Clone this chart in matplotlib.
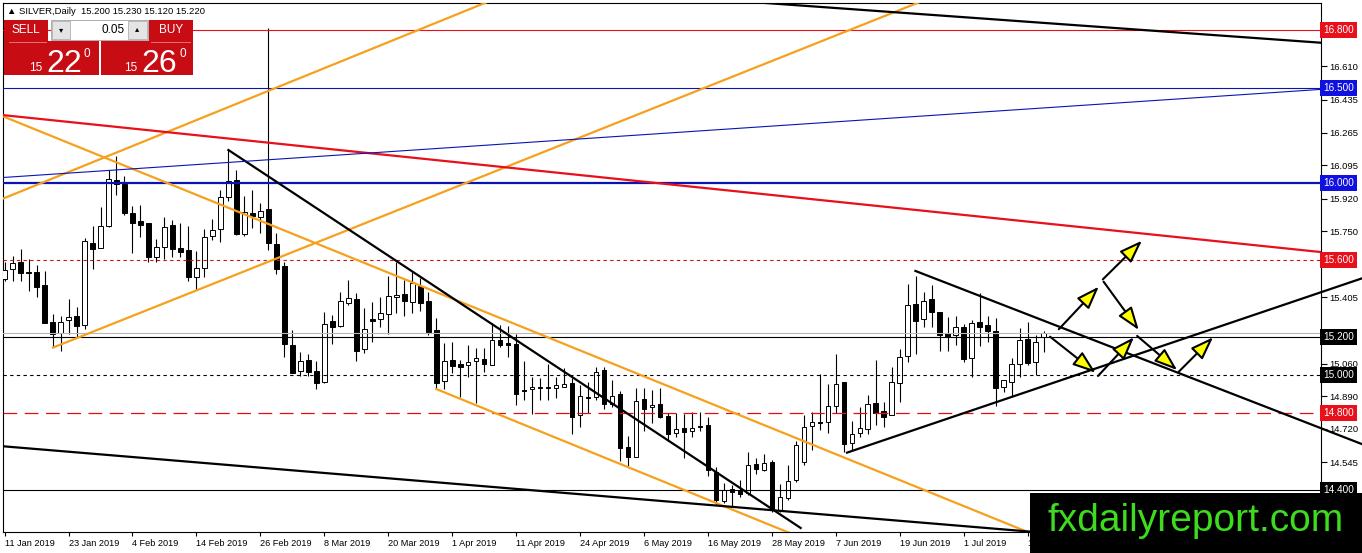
import numpy as np
import matplotlib.pyplot as plt
from matplotlib.patches import Rectangle, FancyArrowPatch
from matplotlib.transforms import blended_transform_factory

# SILVER daily candles, 11 Jan 2019 .. 15 Jul 2019
opens = [15.501, 15.552, 15.589, 15.540, 15.536, 15.470, 15.275, 15.221, 15.286, 15.308,
         15.259, 15.687, 15.661, 15.779, 16.017, 15.997, 15.844, 15.804, 15.793, 15.614,
         15.669, 15.781, 15.663, 15.652, 15.510, 15.557, 15.725, 15.760, 15.930, 16.017,
         15.734, 15.844, 15.823, 15.865, 15.684, 15.569, 15.155, 15.019, 15.078, 15.021,
         14.962, 15.282, 15.256, 15.377, 15.397, 15.134, 15.290, 15.291, 15.317, 15.405,
         15.423, 15.383, 15.464, 15.386, 15.235, 14.969, 15.078, 15.058, 15.051, 15.072,
         15.084, 15.051, 15.183, 15.165, 15.160, 14.922, 14.926, 14.939, 14.936, 14.932,
         14.939, 14.960, 14.791, 14.884, 14.884, 15.026, 14.847, 14.899, 14.623, 14.574,
         14.873, 14.832, 14.849, 14.786, 14.699, 14.722, 14.706, 14.734, 14.738, 14.496,
         14.344, 14.407, 14.397, 14.383, 14.536, 14.505, 14.545, 14.296, 14.357, 14.452,
         14.546, 14.734, 14.754, 14.757, 14.840, 14.962, 14.644, 14.696, 14.717, 14.853,
         14.812, 14.790, 14.957, 15.101, 15.371, 15.291, 15.395, 15.330, 15.218, 15.209,
         15.249, 15.090, 15.275, 15.259, 15.230, 14.939, 14.965, 15.056, 15.188, 15.066,
         15.200]
highs = [15.590, 15.621, 15.657, 15.604, 15.574, 15.543, 15.318, 15.308, 15.397, 15.355,
         15.713, 15.777, 15.877, 16.068, 16.144, 16.038, 15.883, 15.887, 15.793, 15.711,
         15.823, 15.809, 15.791, 15.776, 15.647, 15.763, 15.812, 15.964, 16.174, 16.070,
         15.934, 15.965, 15.896, 16.810, 15.739, 15.591, 15.235, 15.122, 15.110, 15.075,
         15.330, 15.313, 15.435, 15.496, 15.426, 15.348, 15.383, 15.406, 15.517, 15.591,
         15.496, 15.539, 15.505, 15.435, 15.296, 15.166, 15.174, 15.078, 15.157, 15.139,
         15.139, 15.270, 15.261, 15.256, 15.212, 15.075, 14.991, 14.983, 15.057, 14.991,
         15.035, 14.983, 14.948, 14.965, 15.040, 15.040, 14.974, 14.918, 14.682, 14.931,
         14.931, 14.922, 14.931, 14.800, 14.800, 14.796, 14.809, 14.809, 14.779, 14.519,
         14.435, 14.426, 14.452, 14.600, 14.566, 14.586, 14.557, 14.431, 14.531, 14.656,
         14.791, 14.809, 15.005, 14.953, 15.110, 14.962, 14.760, 14.835, 14.895, 15.078,
         14.861, 15.043, 15.136, 15.475, 15.517, 15.432, 15.470, 15.330, 15.301, 15.308,
         15.266, 15.287, 15.426, 15.308, 15.296, 14.970, 15.090, 15.244, 15.278, 15.209,
         15.230]
lows = [15.491, 15.492, 15.491, 15.440, 15.408, 15.270, 15.145, 15.127, 15.214, 15.200,
        15.242, 15.553, 15.661, 15.774, 15.939, 15.835, 15.638, 15.722, 15.591, 15.588,
        15.607, 15.617, 15.617, 15.492, 15.444, 15.510, 15.704, 15.693, 15.909, 15.731,
        15.727, 15.765, 15.742, 15.652, 15.526, 15.092, 15.009, 14.995, 14.995, 14.926,
        14.957, 15.160, 15.249, 15.365, 15.075, 15.113, 15.174, 15.249, 15.214, 15.322,
        15.308, 15.325, 15.336, 15.209, 14.931, 14.927, 15.009, 14.887, 14.988, 14.852,
        15.017, 15.051, 15.148, 15.096, 14.844, 14.870, 14.797, 14.870, 14.870, 14.882,
        14.936, 14.691, 14.731, 14.803, 14.870, 14.821, 14.835, 14.553, 14.525, 14.571,
        14.710, 14.748, 14.774, 14.657, 14.678, 14.566, 14.678, 14.709, 14.472, 14.322,
        14.331, 14.313, 14.365, 14.374, 14.484, 14.501, 14.287, 14.287, 14.348, 14.442,
        14.531, 14.609, 14.713, 14.696, 14.800, 14.600, 14.609, 14.678, 14.692, 14.739,
        14.727, 14.790, 14.861, 15.070, 15.110, 15.249, 15.252, 15.127, 15.127, 15.157,
        15.070, 14.991, 15.152, 15.174, 14.840, 14.913, 14.891, 14.991, 15.052, 14.999,
        15.120]
closes = [15.548, 15.583, 15.534, 15.534, 15.461, 15.270, 15.214, 15.278, 15.304, 15.256,
          15.698, 15.656, 15.776, 16.021, 15.997, 15.847, 15.795, 15.784, 15.617, 15.666,
          15.771, 15.656, 15.643, 15.513, 15.558, 15.719, 15.757, 15.927, 16.011, 15.736,
          15.852, 15.830, 15.857, 15.687, 15.555, 15.160, 15.012, 15.072, 15.016, 14.957,
          15.265, 15.252, 15.385, 15.400, 15.127, 15.239, 15.283, 15.322, 15.411, 15.416,
          15.388, 15.478, 15.377, 15.226, 14.960, 15.072, 15.049, 15.044, 15.066, 15.087,
          15.056, 15.183, 15.157, 15.155, 14.901, 14.917, 14.936, 14.931, 14.931, 14.949,
          14.953, 14.783, 14.889, 14.879, 15.017, 14.849, 14.892, 14.618, 14.571, 14.866,
          14.824, 14.842, 14.779, 14.692, 14.717, 14.704, 14.722, 14.727, 14.505, 14.348,
          14.400, 14.388, 14.379, 14.531, 14.508, 14.539, 14.296, 14.362, 14.449, 14.635,
          14.727, 14.753, 14.751, 14.838, 14.953, 14.639, 14.692, 14.722, 14.847, 14.804,
          14.782, 14.962, 15.096, 15.365, 15.284, 15.388, 15.330, 15.209, 15.200, 15.252,
          15.084, 15.270, 15.252, 15.231, 14.934, 14.974, 15.056, 15.183, 15.061, 15.172,
          15.220]

date_labels = ['11 Jan 2019', '23 Jan 2019', '4 Feb 2019', '14 Feb 2019', '26 Feb 2019',
               '8 Mar 2019', '20 Mar 2019', '1 Apr 2019', '11 Apr 2019', '24 Apr 2019',
               '6 May 2019', '16 May 2019', '28 May 2019', '7 Jun 2019', '19 Jun 2019',
               '1 Jul 2019', '11 Jul 2019']
date_bars = [0, 8, 16, 24, 32, 40, 48, 56, 64, 72, 80, 88, 96, 104, 112, 120, 128]

# scale ticks; the ones hidden behind price tags keep their mark but no label
price_ticks = [16.780, 16.610, 16.435, 16.265, 16.095, 15.920, 15.750, 15.580,
               15.405, 15.230, 15.060, 14.890, 14.720, 14.545, 14.375]
hidden_ticks = [16.780, 15.580, 15.230, 14.375]

# horizontal levels with their price tags
level_prices = [16.8, 16.5, 16.0, 15.6, 15.2, 15.0, 14.8, 14.4]
level_tags = ['16.800', '16.500', '16.000', '15.600', '15.200', '15.000', '14.800', '14.400']
bid_price = 15.220

# trend lines (bar index, price) pairs
orange_lines = [((-0.4, 15.917), (61.5, 16.965)),
                ((6.05, 15.143), (116.0, 16.971)),
                ((-0.4, 16.353), (128.3, 14.176)),
                ((54.0, 14.927), (102.1, 14.110))]
black_lines = [((28.0, 16.174), (99.6, 14.202)),
               ((95.2, 16.941), (164.6, 16.734)),
               ((-0.4, 14.629), (128.3, 14.183))]
triangle_lines = [((113.96, 15.543), (169.8, 14.640)),
                  ((105.4, 14.595), (169.8, 15.504))]
red_line = ((-0.4, 16.357), (164.6, 15.642))
blue_line = ((-0.4, 16.030), (164.6, 16.490))

# projected path arrows
arrow_x0 = [131.9, 137.4, 137.5, 130.8, 136.8, 141.7, 146.9]
arrow_p0 = [15.239, 15.499, 15.487, 15.200, 14.995, 15.204, 15.017]
arrow_x1 = [136.9, 142.3, 141.9, 136.5, 141.3, 146.7, 151.2]
arrow_p1 = [15.461, 15.701, 15.235, 15.012, 15.197, 15.026, 15.197]

RED = '#e8101a'
BLUE = '#0a14b4'
ORANGE = '#f5a11c'

plt.rcParams['font.family'] = ['Liberation Sans', 'DejaVu Sans']

W, H = 1362, 553
fig = plt.figure(figsize=(W / 100, H / 100), dpi=100)
fig.patch.set_facecolor('white')
ax = fig.add_axes([3 / W, (H - 532) / H, (1321 - 3) / W, (532 - 3) / H])

bars = np.arange(len(opens))
o = np.array(opens)
c = np.array(closes)
body_colors = ['white' if cc >= oo else 'black' for oo, cc in zip(o, c)]
ax.vlines(bars, lows, highs, color='black', lw=0.8, zorder=3)
ax.bar(bars, np.abs(c - o), bottom=np.minimum(o, c), width=0.58,
       color=body_colors, edgecolor='black', lw=0.7, zorder=4)

# horizontal levels
ax.axhline(16.8, color=RED, lw=0.8, zorder=5)
ax.axhline(16.5, color=BLUE, lw=0.8, zorder=5)
ax.axhline(16.0, color=BLUE, lw=1.6, zorder=5)
ax.axhline(15.6, color='#d01010', lw=0.8, ls=(0, (3, 3)), zorder=5)
ax.axhline(bid_price, color='#b8b8b8', lw=0.8, zorder=5)
ax.axhline(15.2, color='black', lw=0.8, zorder=5)
ax.axhline(15.0, color='black', lw=0.8, ls=(0, (3, 3)), zorder=5)
ax.axhline(14.8, color='#e01010', lw=0.9, ls=(0, (11, 6)), zorder=5)
ax.axhline(14.4, color='black', lw=0.8, zorder=5)

# trend lines
for (x0, y0), (x1, y1) in orange_lines:
    ax.plot([x0, x1], [y0, y1], color=ORANGE, lw=1.6, zorder=6)
for (x0, y0), (x1, y1) in black_lines:
    ax.plot([x0, x1], [y0, y1], color='black', lw=1.6, zorder=6)
for (x0, y0), (x1, y1) in triangle_lines:
    ax.plot([x0, x1], [y0, y1], color='black', lw=1.6, zorder=6, clip_on=False)
ax.plot([red_line[0][0], red_line[1][0]], [red_line[0][1], red_line[1][1]],
        color=RED, lw=1.6, zorder=6)
ax.plot([blue_line[0][0], blue_line[1][0]], [blue_line[0][1], blue_line[1][1]],
        color=BLUE, lw=0.8, zorder=6)

for xa, pa, xb, pb in zip(arrow_x0, arrow_p0, arrow_x1, arrow_p1):
    arr = FancyArrowPatch((xa, pa), (xb, pb),
                          arrowstyle='-|>,head_length=14,head_width=5',
                          mutation_scale=1, shrinkA=0, shrinkB=0,
                          facecolor='#ffff00', edgecolor='black', lw=1.5,
                          zorder=7, clip_on=False)
    ax.add_patch(arr)

ax.set_xlim(-0.2, 164.7)
ax.set_ylim(14.181, 16.941)

ax.yaxis.tick_right()
ax.set_yticks(price_ticks, ['' if v in hidden_ticks else f'{v:.3f}' for v in price_ticks])
ax.tick_params(axis='y', labelsize=6.8, length=4, width=0.8, pad=2, direction='out')
ax.set_xticks(date_bars, date_labels)
ax.tick_params(axis='x', labelsize=6.6, length=3, width=0.8, pad=2, direction='out')
for lbl in ax.get_xticklabels():
    lbl.set_ha('left')
for sp in ax.spines.values():
    sp.set_color('black')
    sp.set_linewidth(0.8)

# price tags on the right scale
tag_colors = [RED, '#1010e0', '#1010e0', RED, 'black', 'black', RED, 'black']
trans = blended_transform_factory(ax.transAxes, ax.transData)
for v, t, col in zip(level_prices, level_tags, tag_colors):
    ax.text(1.0018, v, t, transform=trans, ha='left', va='center', fontsize=7.2,
            color='white', zorder=10, clip_on=False,
            bbox=dict(boxstyle='square,pad=0.3', fc=col, ec='none'))

# pixel overlay for the terminal widgets
ov = fig.add_axes([0, 0, 1, 1], zorder=20)
ov.set_xlim(0, W)
ov.set_ylim(H, 0)
ov.axis('off')
ov.patch.set_alpha(0)

ov.text(7, 11, '\u25b2 SILVER,Daily  15.200 15.230 15.120 15.220', fontsize=6.8,
        va='center', ha='left', color='black')

PANEL = '#c80c14'
ov.add_patch(Rectangle((4, 20), 44, 21, fc=PANEL, ec='none'))
ov.add_patch(Rectangle((149, 20), 44, 21, fc=PANEL, ec='none'))
ov.add_patch(Rectangle((51, 20), 97, 20, fc='white', ec='#a0a0a0', lw=0.6))
ov.add_patch(Rectangle((52, 21), 18, 18, fc='#e4e4e4', ec='#b0b0b0', lw=0.6))
ov.add_patch(Rectangle((128, 21), 19, 18, fc='#e4e4e4', ec='#b0b0b0', lw=0.6))
ov.add_patch(Rectangle((4, 41), 95, 34, fc=PANEL, ec='none'))
ov.add_patch(Rectangle((101, 41), 92, 34, fc=PANEL, ec='none'))
ov.plot([9, 46], [41.5, 41.5], color='#f08080', lw=0.6)
ov.plot([151, 190], [41.5, 41.5], color='#f08080', lw=0.6)
ov.text(26, 30, 'SELL', fontsize=8.5, color='white', ha='center', va='center')
ov.text(171, 30, 'BUY', fontsize=8.5, color='white', ha='center', va='center')
ov.text(125, 30, '0.05', fontsize=8.5, color='black', ha='right', va='center')
ov.text(61, 31, '\u25be', fontsize=6, color='black', ha='center', va='center')
ov.text(137.5, 30, '\u25b4', fontsize=6, color='black', ha='center', va='center')
for x0, small, big in [(29, '15', '22'), (124, '15', '26')]:
    ov.text(x0, 71, small, fontsize=8.5, color='white', ha='left', va='baseline')
    ov.text(x0 + 17, 72, big, fontsize=23, color='white', ha='left', va='baseline')
    ov.text(x0 + 55, 57, '0', fontsize=8.5, color='white', ha='left', va='baseline')

# watermark box
ov.add_patch(Rectangle((1030, 493), 332, 60, fc='black', ec='none'))
ov.text(1196, 521, 'fxdailyreport.com', fontsize=28, color='#3ddc1e',
        ha='center', va='center')

fig.savefig('out.png', dpi=100)
